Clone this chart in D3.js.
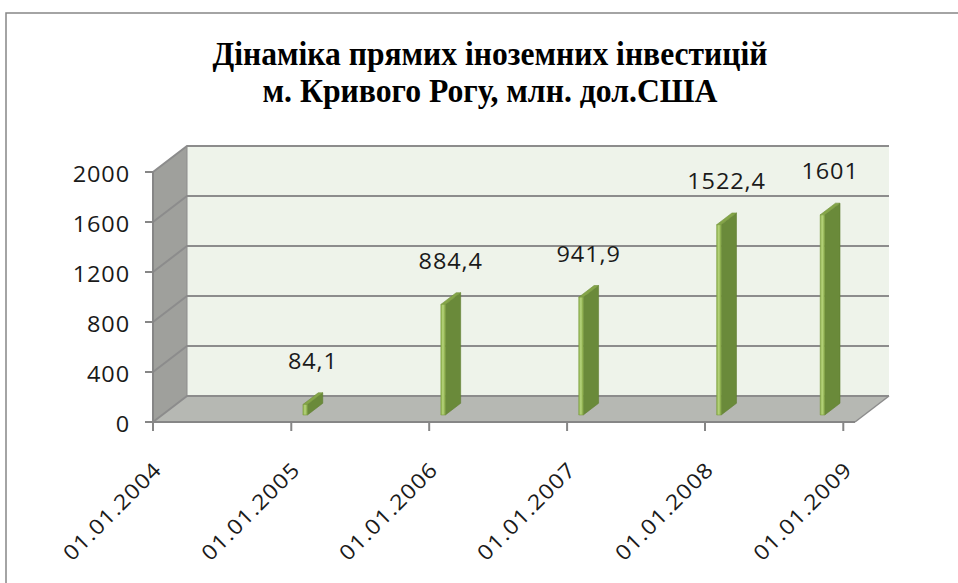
<!DOCTYPE html>
<html>
<head>
<meta charset="utf-8">
<script src="https://cdn.jsdelivr.net/npm/d3@7"></script>
<style>
  body { margin: 0; background: #fff; }
  .lbl { font-family: "Open Sans", sans-serif; font-size: 21px; fill: #1a1a1a; letter-spacing: 0.8px; }
</style>
</head>
<body>
<div id="chart"></div>
<script>
// tick labels on the date axis
var tickLabels = ["01.01.2004", "01.01.2005", "01.01.2006", "01.01.2007", "01.01.2008", "01.01.2009"];
// dates of the columns and their values
var barDates = ["01.01.2005", "01.01.2006", "01.01.2007", "01.01.2008", "01.10.2008"];
var barValues = [84.1, 884.4, 941.9, 1522.4, 1601];
var yTicks = [0, 400, 800, 1200, 1600, 2000];
var titleLines = ["Дінаміка прямих іноземних інвестицій", "м. Кривого Рогу, млн. дол.США"];

var width = 958, height = 583;
var parse = d3.timeParse("%d.%m.%Y");

// 3d depth offset of the back wall
var DX = 34, DY = 26;
// labels are a bit wider than the font
var SX = 1.12;

var svg = d3.select("#chart").append("svg")
    .attr("width", width)
    .attr("height", height);

// frame of the chart area
svg.append("rect")
    .attr("x", 6).attr("y", 13)
    .attr("width", 980).attr("height", 600)
    .attr("fill", "#fff")
    .attr("stroke", "#868686")
    .attr("stroke-width", 1.5);

// title
var titleLens = [555, 455];
svg.selectAll(".title")
    .data(titleLines)
  .enter().append("text")
    .attr("class", "title")
    .attr("x", 490)
    .attr("y", function(d, i) { return 65 + i * 37; })
    .attr("text-anchor", "middle")
    .attr("textLength", function(d, i) { return titleLens[i]; })
    .attr("lengthAdjust", "spacingAndGlyphs")
    .style("font-family", "'Liberation Serif', 'Times New Roman', serif")
    .style("font-weight", "bold")
    .style("font-size", "33px")
    .style("fill", "#000")
    .text(function(d) { return d; });

var xScale = d3.scaleTime()
    .domain([parse("01.01.2004"), parse("01.02.2009")])
    .range([153, 855]);

var yScale = d3.scaleLinear()
    .domain([0, 2000])
    .range([422, 172]);

// project a point of the front plane to depth z (0..1)
function P(x, y, z) { return [x + z * DX, y - z * DY]; }
function poly(pts) { return "M" + pts.map(function(p) { return p.join(","); }).join("L") + "Z"; }

var x0 = xScale.range()[0], x1 = xScale.range()[1];
var yb = yScale(0), yt = yScale(2000);

// back wall
svg.append("path")
    .attr("d", poly([P(x0, yt, 1), P(x1, yt, 1), P(x1, yb, 1), P(x0, yb, 1)]))
    .attr("fill", "#eef3ea");

// side wall
svg.append("path")
    .attr("d", poly([P(x0, yt, 0), P(x0, yt, 1), P(x0, yb, 1), P(x0, yb, 0)]))
    .attr("fill", "#9fa09c");

// floor
svg.append("path")
    .attr("d", poly([P(x0, yb, 0), P(x1, yb, 0), P(x1, yb, 1), P(x0, yb, 1)]))
    .attr("fill", "#b6b8b3");

// gridlines on back and side wall
yTicks.forEach(function(t) {
  var y = yScale(t);
  var a = P(x0, y, 0), b = P(x0, y, 1), c = P(x1, y, 1);
  svg.append("path")
      .attr("d", "M" + a + "L" + b + "L" + c)
      .attr("fill", "none")
      .attr("stroke", "#8c8c8c")
      .attr("stroke-width", 2);
});
// floor front right edge
svg.append("path")
    .attr("d", "M" + P(x1, yb, 0) + "L" + P(x1, yb, 1))
    .attr("stroke", "#8c8c8c").attr("stroke-width", 1.5);
svg.append("path")
    .attr("d", "M" + P(x0, yt, 1) + "L" + P(x0, yb, 1))
    .attr("stroke", "#8c8c8c").attr("stroke-width", 1);

// bars
var data = barDates.map(function(d, i) { return { date: parse(d), value: barValues[i] }; });
var z0 = 0.27, z1 = 0.72, bw = 4.5;

var defs = svg.append("defs");
var gf = defs.append("linearGradient").attr("id", "front");
gf.append("stop").attr("offset", "0%").attr("stop-color", "#8db04a");
gf.append("stop").attr("offset", "45%").attr("stop-color", "#b6d47c");
gf.append("stop").attr("offset", "100%").attr("stop-color", "#86a845");

var bars = svg.selectAll(".bar")
    .data(data)
  .enter().append("g")
    .attr("class", "bar");

bars.append("path")
    .attr("d", function(d) {
      var l = xScale(d.date) + 2.5, r = l + bw, top = yScale(d.value);
      return poly([P(r, yb, z0), P(r, top, z0), P(r, top, z1), P(r, yb, z1)]);
    })
    .attr("fill", "#6a8a3a")
    .attr("stroke", "#5f7d31").attr("stroke-width", 0.6);

bars.append("path")
    .attr("d", function(d) {
      var l = xScale(d.date) + 2.5, r = l + bw, top = yScale(d.value);
      return poly([P(l, top, z0), P(r, top, z0), P(r, top, z1), P(l, top, z1)]);
    })
    .attr("fill", "#84a548")
    .attr("stroke", "#6f8f39").attr("stroke-width", 0.6);

bars.append("path")
    .attr("d", function(d) {
      var l = xScale(d.date) + 2.5, r = l + bw, top = yScale(d.value);
      return poly([P(l, yb, z0), P(l, top, z0), P(r, top, z0), P(r, yb, z0)]);
    })
    .attr("fill", "url(#front)")
    .attr("stroke", "#7a9c40").attr("stroke-width", 0.6);

// value labels
bars.append("text")
    .attr("class", "lbl")
    .attr("text-anchor", "middle")
    .attr("transform", function(d) {
      var cx = xScale(d.date) + 2.5 + (bw + DX * (z1 - z0)) / 2 + (z0 * DX);
      var cy = yScale(d.value) - z1 * DY - 24;
      return "translate(" + cx + "," + cy + ") scale(" + SX + ",1)";
    })
    .text(function(d) { return String(d.value).replace(".", ","); });

// y axis
var yAxis = svg.append("g");
yAxis.append("line")
    .attr("x1", x0).attr("x2", x0)
    .attr("y1", yt).attr("y2", yb + 9)
    .attr("stroke", "#868686").attr("stroke-width", 2);
yAxis.selectAll(".ytick")
    .data(yTicks)
  .enter().append("line")
    .attr("x1", x0 - 8).attr("x2", x0)
    .attr("y1", function(d) { return yScale(d); })
    .attr("y2", function(d) { return yScale(d); })
    .attr("stroke", "#868686").attr("stroke-width", 2);
yAxis.selectAll(".ylbl")
    .data(yTicks)
  .enter().append("text")
    .attr("class", "lbl")
    .attr("text-anchor", "end")
    .attr("transform", function(d) {
      return "translate(130," + (yScale(d) + 10) + ") scale(" + SX + ",1)";
    })
    .text(function(d) { return d; });

// x axis
var xAxis = svg.append("g");
xAxis.append("line")
    .attr("x1", x0).attr("x2", x1)
    .attr("y1", yb).attr("y2", yb)
    .attr("stroke", "#868686").attr("stroke-width", 2);
xAxis.selectAll(".xtick")
    .data(tickLabels)
  .enter().append("line")
    .attr("x1", function(d) { return xScale(parse(d)); })
    .attr("x2", function(d) { return xScale(parse(d)); })
    .attr("y1", yb).attr("y2", yb + 9)
    .attr("stroke", "#868686").attr("stroke-width", 2);
xAxis.selectAll(".xlbl")
    .data(tickLabels)
  .enter().append("text")
    .attr("class", "lbl")
    .attr("text-anchor", "end")
    .attr("transform", function(d) {
      return "translate(" + (xScale(parse(d)) + 10) + "," + (yb + 49) + ") rotate(-45) scale(" + SX + ",1)";
    })
    .text(function(d) { return d; });
</script>
</body>
</html>
